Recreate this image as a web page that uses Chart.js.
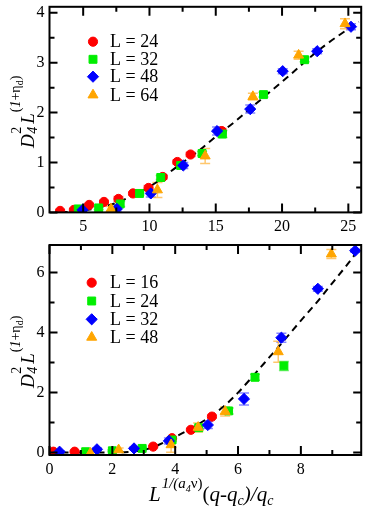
<!DOCTYPE html>
<html><head><meta charset="utf-8">
<script src="https://cdn.jsdelivr.net/npm/chart.js@4/dist/chart.umd.min.js"></script>
<style>
html,body{margin:0;padding:0;background:#fff;width:368px;height:509px;overflow:hidden}
canvas{position:absolute;left:0}
#c1{top:0}
#c2{top:232px}
</style></head><body>
<canvas id="c1" width="368" height="232"></canvas>
<canvas id="c2" width="368" height="277"></canvas>
<script>
// ---------- TOP PANEL DATA ----------
const topSeriesLabels = ['L = 24', 'L = 32', 'L = 48', 'L = 64'];
const topX24 = [3.26, 4.3, 5.45, 6.57, 7.66, 8.76, 9.93, 11.0, 12.1, 13.1, 15.45];
const topY24 = [0.03, 0.05, 0.15, 0.21, 0.27, 0.38, 0.49, 0.71, 1.01, 1.16, 1.63];
const topE24 = [0.03, 0.03, 0.03, 0.03, 0.05, 0.03, 0.05, 0.04, 0.04, 0.04, 0.05];
const topX32 = [4.63, 6.17, 7.79, 9.25, 10.85, 12.35, 13.97, 15.5, 18.6, 21.7];
const topY32 = [0.07, 0.09, 0.17, 0.38, 0.70, 0.94, 1.18, 1.57, 2.36, 3.06];
const topE32 = [0.03, 0.03, 0.05, 0.03, 0.04, 0.04, 0.04, 0.07, 0.05, 0.04];
const topX48 = [4.95, 7.54, 10.1, 12.55, 15.1, 17.6, 20.05, 22.65, 25.2];
const topY48 = [0.05, 0.07, 0.38, 0.94, 1.63, 2.07, 2.83, 3.23, 3.72];
const topE48 = [0.03, 0.06, 0.07, 0.06, 0.08, 0.08, 0.05, 0.05, 0.06];
const topX64 = [7.1, 10.6, 14.2, 17.8, 21.25, 24.75];
const topY64 = [0.07, 0.45, 1.13, 2.32, 3.15, 3.78];
const topE64 = [0.05, 0.15, 0.15, 0.07, 0.08, 0.10];
const topFitX = [3.3, 4.5, 6, 7.5, 8.5, 9.5, 10.5, 11.5, 12.5, 13.7, 15, 16.45, 18, 20.4, 23, 25.78];
const topFitY = [0.0, 0.02, 0.08, 0.19, 0.31, 0.44, 0.6, 0.8, 1.0, 1.23, 1.52, 1.82, 2.17, 2.71, 3.3, 3.82];
const topXTicks = [5, 10, 15, 20, 25];
const topXMinor = [7.5, 12.5, 17.5, 22.5];
const topYTicks = [0, 1, 2, 3, 4];
const topYMinor = [0.5, 1.5, 2.5, 3.5];

// ---------- BOTTOM PANEL DATA ----------
const botSeriesLabels = ['L = 16', 'L = 24', 'L = 32', 'L = 48'];
const botX16 = [0.12, 0.8, 3.3, 3.9, 4.5, 5.17];
const botY16 = [0.03, 0.03, 0.2, 0.48, 0.76, 1.2];
const botE16 = [0.03, 0.03, 0.03, 0.04, 0.04, 0.05];
const botX24 = [1.15, 2.0, 2.95, 3.9, 4.75, 5.7, 6.54, 7.46];
const botY24 = [0.03, 0.06, 0.14, 0.42, 0.83, 1.39, 2.51, 2.89];
const botE24 = [0.03, 0.03, 0.04, 0.05, 0.06, 0.10, 0.10, 0.15];
const botX32 = [0.32, 1.51, 2.69, 3.8, 5.04, 6.19, 7.38, 8.54, 9.73];
const botY32 = [0.03, 0.11, 0.14, 0.39, 0.92, 1.79, 3.83, 5.46, 6.73];
const botE32 = [0.03, 0.04, 0.04, 0.10, 0.12, 0.20, 0.15, 0.08, 0.05];
const botX48 = [1.3, 2.2, 3.87, 4.73, 5.59, 7.28, 8.97];
const botY48 = [-0.02, 0.09, 0.26, 0.84, 1.37, 3.36, 6.62];
const botE48 = [0.05, 0.06, 0.25, 0.15, 0.15, 0.35, 0.15];
const botFitX = [0, 1, 2, 2.5, 2.8, 3.0, 3.3, 3.5, 4.0, 4.5, 5.0, 5.5, 6.0, 6.5, 7.0, 7.5, 8.0, 8.5, 9.0, 9.5, 9.86];
const botFitY = [0, 0, 0, 0.02, 0.05, 0.09, 0.18, 0.27, 0.52, 0.8, 1.12, 1.5, 2.0, 2.58, 3.18, 3.78, 4.4, 5.0, 5.65, 6.3, 6.8];
const botXTicks = [0, 2, 4, 6, 8];
const botXMinor = [1, 3, 5, 7, 9];
const botYTicks = [0, 2, 4, 6];
const botYMinor = [1, 3, 5];

// ---------- STYLE ----------
const FONT = '"Liberation Serif", "Times New Roman", serif';
const colors = ['#ff0000', '#00ee00', '#0000ff', '#ffa500'];
const errColors = ['rgba(255,80,80,0.7)', 'rgba(60,230,60,0.7)', 'rgba(80,80,255,0.7)', 'rgba(255,180,60,0.75)'];
const styles = ['circle', 'rect', 'rectRot', 'triangle'];
const radii = [4.6, 5.6, 5.6, 5.8];

const zip = (xs, ys) => xs.map((x, i) => ({x: x, y: ys[i]}));

function seriesDatasets(labels, xs, ys, es) {
  return labels.map((lab, i) => ({
    label: lab,
    data: zip(xs[i], ys[i]),
    errors: es[i],
    errColor: errColors[i],
    pointStyle: styles[i],
    pointRadius: radii[i],
    pointBackgroundColor: colors[i],
    pointBorderColor: colors[i],
    pointBorderWidth: 1,
    showLine: false,
    order: 4 - i
  }));
}

const errPlugin = {
  id: 'errbars',
  beforeDatasetsDraw(chart) {
    const ctx = chart.ctx, xs = chart.scales.x, ys = chart.scales.y, a = chart.chartArea;
    ctx.save();
    ctx.beginPath(); ctx.rect(a.left, a.top, a.right - a.left, a.bottom - a.top); ctx.clip();
    chart.data.datasets.forEach(ds => {
      if (!ds.errors) return;
      ctx.strokeStyle = ds.errColor; ctx.lineWidth = 1.5;
      ds.data.forEach((p, j) => {
        const e = ds.errors[j];
        const px = xs.getPixelForValue(p.x);
        const y1 = ys.getPixelForValue(p.y - e), y2 = ys.getPixelForValue(p.y + e);
        ctx.beginPath();
        ctx.moveTo(px, y1); ctx.lineTo(px, y2);
        ctx.moveTo(px - 5, y1); ctx.lineTo(px + 5, y1);
        ctx.moveTo(px - 5, y2); ctx.lineTo(px + 5, y2);
        ctx.stroke();
      });
    });
    ctx.restore();
  }
};

const framePlugin = {
  id: 'frame',
  afterDatasetsDraw(chart, args, o) {
    const ctx = chart.ctx, xs = chart.scales.x, ys = chart.scales.y, a = chart.chartArea;
    ctx.save();
    ctx.strokeStyle = '#000'; ctx.lineWidth = 2;
    ctx.strokeRect(a.left, a.top, a.right - a.left, a.bottom - a.top);
    ctx.beginPath();
    const xt = (vals, len) => vals.forEach(v => {
      const p = xs.getPixelForValue(v);
      ctx.moveTo(p, a.bottom); ctx.lineTo(p, a.bottom - len);
      ctx.moveTo(p, a.top); ctx.lineTo(p, a.top + len);
    });
    const yt = (vals, len) => vals.forEach(v => {
      const p = ys.getPixelForValue(v);
      ctx.moveTo(a.left, p); ctx.lineTo(a.left + len, p);
      ctx.moveTo(a.right, p); ctx.lineTo(a.right - len, p);
    });
    xt(o.xMajor, 9); xt(o.xMinor, 5);
    yt(o.yMajor, 8); yt(o.yMinor, 5);
    ctx.stroke();
    ctx.restore();
  },
  afterDraw(chart, args, o) {
    const ctx = chart.ctx;
    ctx.save();
    // legend
    chart.data.datasets.forEach((ds, i) => {
      if (!ds.errors) return;
      const y = o.legY[i];
      ctx.fillStyle = colors[i]; ctx.strokeStyle = colors[i]; ctx.lineWidth = 1;
      Chart.helpers.drawPoint(ctx, {pointStyle: styles[i], radius: radii[i], rotation: 0, borderWidth: 1}, o.legX, y);
      ctx.fillStyle = '#000';
      ctx.font = '18px ' + FONT;
      ctx.textBaseline = 'middle'; ctx.textAlign = 'left';
      ctx.fillText(ds.label, o.legTextX, y + 1);
    });
    ctx.textBaseline = 'alphabetic';
    // y title
    ctx.translate(o.yTitleX, o.yTitleY);
    ctx.rotate(-Math.PI / 2);
    drawRich(ctx, [
      {t: 'D', s: 19, it: 1},
      {t: '4', s: 14, it: 1, dy: 3, noAdv: 1, dx: 0.5},
      {t: '2', s: 14, dy: -13, dx: 0.5},
      {t: 'L', s: 19, it: 1, dx: 3},
      {t: '(', s: 14, dy: -14, dx: 1},
      {t: '1', s: 14, it: 1, dy: -14},
      {t: '+', s: 14, dy: -14},
      {t: 'η', s: 14, dy: -14},
      {t: 'd', s: 10, dy: -11},
      {t: ')', s: 14, dy: -14}
    ], 0, 0);
    ctx.restore();
    if (o.xTitle) {
      ctx.save();
      ctx.fillStyle = '#000';
      drawRich(ctx, [
        {t: 'L', s: 21, it: 1},
        {t: '1/(', s: 15, it: 1, dy: -13, dx: 1},
        {t: 'a', s: 15, it: 1, dy: -13},
        {t: '4', s: 10, it: 1, dy: -9},
        {t: 'ν)', s: 15, dy: -13},
        {t: '(', s: 21},
        {t: 'q', s: 21, it: 1},
        {t: '-', s: 21},
        {t: 'q', s: 21, it: 1},
        {t: 'c', s: 14, it: 1, dy: 4},
        {t: ')/', s: 21, it: 1},
        {t: 'q', s: 21, it: 1},
        {t: 'c', s: 14, it: 1, dy: 4}
      ], o.xTitleX, o.xTitleY);
      ctx.restore();
    }
  }
};

function drawRich(ctx, parts, x, y) {
  let cx = x;
  ctx.fillStyle = '#000';
  ctx.textAlign = 'left';
  for (const p of parts) {
    ctx.font = (p.it ? 'italic ' : '') + p.s + 'px ' + FONT;
    const px = cx + (p.dx || 0);
    ctx.fillText(p.t, px, y + (p.dy || 0));
    const w = ctx.measureText(p.t).width;
    if (!p.noAdv) cx = px + w;
  }
}

function makeChart(id, dsets, fitX, fitY, xr, yr, xTicks, xMinor, yTicks, yMinor, xAxisH, pad, frameOpts) {
  const datasets = dsets.slice();
  datasets.push({
    label: 'fit', data: zip(fitX, fitY), showLine: true, pointRadius: 0,
    borderColor: '#000', borderWidth: 2, borderDash: [7, 5],
    cubicInterpolationMode: 'monotone', order: 10
  });
  const tickFont = {family: FONT, size: 16};
  return new Chart(document.getElementById(id), {
    type: 'scatter',
    data: {datasets: datasets},
    options: {
      responsive: false, animation: false, devicePixelRatio: 1, events: [],
      layout: {padding: pad},
      plugins: {legend: {display: false}, tooltip: {enabled: false}, frame: frameOpts},
      scales: {
        x: {
          type: 'linear', min: xr[0], max: xr[1],
          afterBuildTicks: s => { s.ticks = xTicks.map(v => ({value: v})); },
          afterFit: s => { s.height = xAxisH; s.paddingLeft = 0; s.paddingRight = 0; },
          grid: {display: false, drawTicks: false}, border: {display: false},
          ticks: {padding: 5, color: '#000', font: tickFont, maxRotation: 0, autoSkip: false}
        },
        y: {
          type: 'linear', min: yr[0], max: yr[1],
          afterBuildTicks: s => { s.ticks = yTicks.map(v => ({value: v})); },
          afterFit: s => { s.width = 49.5; s.paddingTop = 0; s.paddingBottom = 0; },
          grid: {display: false, drawTicks: false}, border: {display: false},
          ticks: {padding: 5, color: '#000', font: tickFont, autoSkip: false}
        }
      }
    },
    plugins: [errPlugin, framePlugin]
  });
}

makeChart('c1',
  seriesDatasets(topSeriesLabels, [topX24, topX32, topX48, topX64], [topY24, topY32, topY48, topY64], [topE24, topE32, topE48, topE64]),
  topFitX, topFitY, [2.46, 25.97], [0, 4.12], topXTicks, topXMinor, topYTicks, topYMinor,
  232 - 212.4, {left: 0, right: 3.7, top: 3.3, bottom: 0},
  {xMajor: topXTicks, xMinor: topXMinor, yMajor: topYTicks, yMinor: topYMinor,
   legX: 93, legTextX: 110, legY: [41.7, 59.3, 76.7, 95], yTitleX: 33.5, yTitleY: 148, xTitle: false});

makeChart('c2',
  seriesDatasets(botSeriesLabels, [botX16, botX24, botX32, botX48], [botY16, botY24, botY32, botY48], [botE16, botE24, botE32, botE48]),
  botFitX, botFitY, [0, 9.92], [-0.08, 6.92], botXTicks, botXMinor, botYTicks, botYMinor,
  277 - (455 - 232), {left: 0, right: 3.7, top: 245 - 232, bottom: 0},
  {xMajor: botXTicks, xMinor: botXMinor, yMajor: botYTicks, yMinor: botYMinor,
   legX: 91.7, legTextX: 110, legY: [50.7, 69, 87.3, 105.3], yTitleX: 33.5, yTitleY: 388 - 232,
   xTitle: true, xTitleX: 149, xTitleY: 501 - 232});
</script>
</body></html>
